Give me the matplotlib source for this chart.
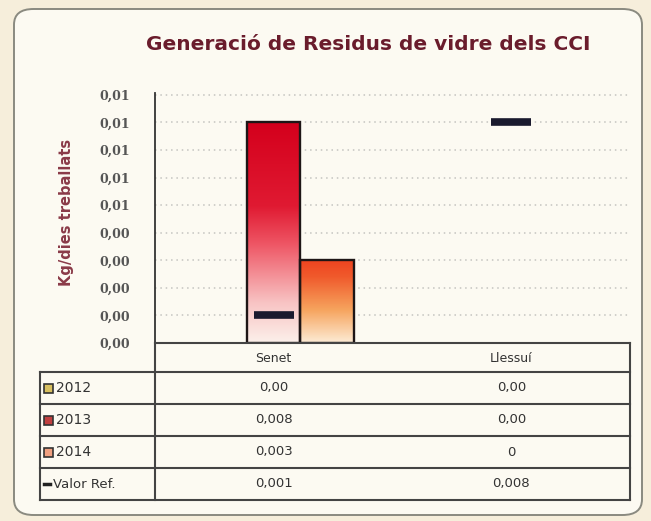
import numpy as np
import matplotlib.pyplot as plt
from matplotlib.patches import FancyBboxPatch, Rectangle
from matplotlib.colors import LinearSegmentedColormap

# Dades: kg/dies treballats per centre
centres = ["Senet", "Llessuí"]
anys = ["2012", "2013", "2014"]
v2012 = [0.0, 0.0]
v2013 = [0.008, 0.0]
v2014 = [0.003, 0.0]
valor_ref = [0.001, 0.008]
taula_text = [["0,00", "0,00"],
              ["0,008", "0,00"],
              ["0,003", "0"],
              ["0,001", "0,008"]]
files_taula = ["2012", "2013", "2014", "Valor Ref."]
yticks = [0.000, 0.001, 0.002, 0.003, 0.004, 0.005, 0.006, 0.007, 0.008, 0.009]
ytick_labels = ["0,00"] * 5 + ["0,01"] * 5

W, H = 651, 521
fig = plt.figure(figsize=(W / 100, H / 100), dpi=100)
fig.patch.set_facecolor("#f6eedb")

# panell arrodonit de fons
panel = FancyBboxPatch((14 / W, 6 / H), 628 / W, 506 / H,
                       boxstyle="round,pad=0,rounding_size=0.03",
                       transform=fig.transFigure, facecolor="#fcfaf2",
                       edgecolor="#8a8a80", linewidth=1.4, zorder=-10)
fig.patches.append(panel)

x0, x1 = 155, 630
ax = fig.add_axes([x0 / W, 1 - 343 / H, (x1 - x0) / W, (343 - 93) / H])
ax.set_facecolor("none")

x = np.arange(len(centres))
bw = 0.225
series = [v2012, v2013, v2014]
grads = [
    LinearSegmentedColormap.from_list("g12", ["#fdf6d8", "#e8c860"]),
    LinearSegmentedColormap.from_list(
        "g13", [(0, "#fcf0ea"), (0.18, "#f8c4c4"), (0.45, "#ee5564"),
                (0.62, "#e01a32"), (1, "#d4001c")]),
    LinearSegmentedColormap.from_list(
        "g14", [(0, "#fdecd6"), (0.4, "#f6a45e"), (0.8, "#f05a2c"), (1, "#ee4420")]),
]
ymax = 0.00907
grad = np.linspace(0, 1, 256).reshape(-1, 1)
for i, vals in enumerate(series):
    for xi, h in zip(x, vals):
        if h <= 0:
            continue
        b = ax.bar(xi + (i - 1) * bw, h, width=bw, facecolor="none",
                   edgecolor="#1e1616", linewidth=1.7, zorder=3)[0]
        im = ax.imshow(grad, cmap=grads[i], aspect="auto", origin="lower",
                       extent=[b.get_x(), b.get_x() + b.get_width(), 0, h],
                       zorder=2)
        im.set_clip_path(b)

# valor de referència
ax.scatter(x, valor_ref, marker="_", s=850, linewidths=5.5, color="#1a1a2e", zorder=4)

ax.set_xlim(-0.5, 1.5)
ax.set_ylim(0, ymax)
ax.set_yticks(yticks)
ax.set_yticklabels(ytick_labels, family="DejaVu Serif", fontsize=9,
                   color="#555555", fontweight="bold")
ax.tick_params(axis="y", length=0, pad=18)
ax.set_xticks([])
for yt in yticks[1:]:
    ax.axhline(yt, color="#c4c4c0", linestyle=(0, (1, 2.5)), linewidth=1.1, zorder=1)
for s in ["top", "right", "bottom"]:
    ax.spines[s].set_visible(False)
ax.spines["left"].set_color("#333333")
ax.spines["left"].set_linewidth(1.3)

fig.text(368 / W, 1 - 45 / H, "Generació de Residus de vidre dels CCI",
         ha="center", va="center", fontsize=14.5, fontweight="bold",
         color="#6a1c2c")
fig.text(66 / W, 1 - 212 / H, "Kg/dies treballats", rotation=90,
         ha="center", va="center", fontsize=10.5, fontweight="bold",
         color="#8a3a48")

# taula de valors sota el gràfic
tl, tr = 40, 630
row_edges = [343, 372, 404, 436, 468, 500]
lc = "#444444"


def fx(px):
    return px / W


def fy(py):
    return 1 - py / H


for k, py in enumerate(row_edges):
    xa = x0 if k == 0 else tl
    fig.add_artist(plt.Line2D([fx(xa), fx(tr)], [fy(py), fy(py)],
                              color=lc, linewidth=1.5))
fig.add_artist(plt.Line2D([fx(tl), fx(tl)], [fy(372), fy(500)], color=lc, linewidth=1.5))
fig.add_artist(plt.Line2D([fx(x0), fx(x0)], [fy(343), fy(500)], color=lc, linewidth=1.5))
fig.add_artist(plt.Line2D([fx(tr), fx(tr)], [fy(343), fy(500)], color=lc, linewidth=1.5))

col_cx = [x0 + (x1 - x0) / 4, x0 + 3 * (x1 - x0) / 4]
for j, c in enumerate(centres):
    fig.text(fx(col_cx[j]), fy(358), c, ha="center", va="center",
             fontsize=9, color="#333333", family="DejaVu Sans")

icon_cols = ["#d8c060", "#c04040", "#f0a080"]
for r, lab in enumerate(files_taula):
    cy = (row_edges[r + 1] + row_edges[r + 2]) / 2
    if r < 3:
        fig.add_artist(Rectangle((fx(44), fy(cy + 5)), 9 / W, 9 / H,
                                 transform=fig.transFigure, facecolor=icon_cols[r],
                                 edgecolor="#333333", linewidth=1.2))
        fig.text(fx(56), fy(cy), lab, ha="left", va="center", fontsize=10,
                 color="#333333", family="DejaVu Sans")
    else:
        fig.add_artist(plt.Line2D([fx(44), fx(50)], [fy(cy), fy(cy)],
                                  color="#222222", linewidth=2.5))
        fig.text(fx(53), fy(cy), lab, ha="left", va="center", fontsize=9.5,
                 color="#333333", family="DejaVu Sans")
    for j in range(len(centres)):
        fig.text(fx(col_cx[j]), fy(cy), taula_text[r][j], ha="center", va="center",
                 fontsize=9.5, color="#333333", family="DejaVu Sans")

fig.savefig("out.png", dpi=100, facecolor=fig.get_facecolor())
